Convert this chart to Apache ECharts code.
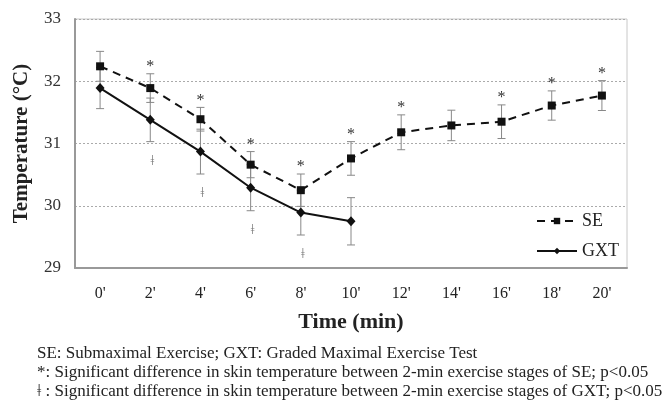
<!DOCTYPE html>
<html><head><meta charset="utf-8">
<script src="https://cdn.jsdelivr.net/npm/echarts@6/dist/echarts.min.js"></script>
<style>html,body{margin:0;padding:0;background:#fff;}#c{width:670px;height:401px;}</style>
</head><body><div id="c"></div>
<script>
const categories = ["0'","2'","4'","6'","8'","10'","12'","14'","16'","18'","20'"];
const seMean = [32.24, 31.89, 31.39, 30.66, 30.25, 30.76, 31.18, 31.29, 31.35, 31.61, 31.77];
const seSD   = [0.24, 0.23, 0.19, 0.21, 0.26, 0.27, 0.28, 0.245, 0.27, 0.235, 0.24];
const seSig  = [0, 1, 1, 1, 1, 1, 1, 0, 1, 1, 1];
const gxtMean = [31.89, 31.38, 30.87, 30.29, 29.89, 29.75];
const gxtSD   = [0.33, 0.35, 0.36, 0.37, 0.36, 0.38];
const gxtSig  = [0, 1, 1, 1, 1, 0];
const yTicks = [29, 30, 31, 32, 33];
const footnotes = [
  "SE: Submaximal Exercise; GXT: Graded Maximal Exercise Test",
  "*: Significant difference in skin temperature between 2-min exercise stages of SE; p<0.05",
  "ǂ : Significant difference in skin temperature between 2-min exercise stages of GXT; p<0.05"
];

const serif = "'Liberation Serif','Times New Roman',serif";
const seErr = seMean.map((m,i)=>[i, m - seSD[i], m + seSD[i], seSig[i]]);
const gxtErr = gxtMean.map((m,i)=>[i, m - gxtSD[i], m + gxtSD[i], gxtSig[i]]);

function errRender(kind){
  return function(params, api){
    const x = api.value(0);
    const lo = api.coord([x, api.value(1)]);
    const hi = api.coord([x, api.value(2)]);
    const sig = api.value(3);
    const cap = 4;
    const st = {stroke:'#888', lineWidth:1};
    const ch = [
      {type:'line', shape:{x1:lo[0], y1:lo[1], x2:hi[0], y2:hi[1]}, style:st},
      {type:'line', shape:{x1:lo[0]-cap, y1:lo[1], x2:lo[0]+cap, y2:lo[1]}, style:st},
      {type:'line', shape:{x1:hi[0]-cap, y1:hi[1], x2:hi[0]+cap, y2:hi[1]}, style:st}
    ];
    if (sig) {
      if (kind === 'se') {
        ch.push({type:'text', style:{text:'*', x:hi[0], y:hi[1]-7, align:'center', verticalAlign:'middle', font:'16px '+serif, fill:'#333'}});
      } else {
        ch.push({type:'text', style:{text:'ǂ', x:lo[0]+2, y:lo[1]+19, align:'center', verticalAlign:'middle', font:'15px '+serif, fill:'#777'}});
      }
    }
    return {type:'group', children:ch};
  };
}

const chart = echarts.init(document.getElementById('c'), null, {renderer:'canvas'});
chart.setOption({
  animation:false,
  grid:{left:75, right:43, top:19, bottom:133, show:true, borderColor:'#c8c8c8', borderWidth:1},
  legend:{
    right:46, top:207, orient:'vertical', itemGap:12, itemWidth:40, itemHeight:8,
    textStyle:{fontFamily:serif, fontSize:18, color:'#222'},
    data:['SE','GXT']
  },
  xAxis:{
    type:'category', data:categories, boundaryGap:true,
    axisLine:{lineStyle:{color:'#999', width:2}},
    axisTick:{inside:true, length:6, lineStyle:{color:'#999', width:1}},
    axisLabel:{fontFamily:serif, fontSize:16, color:'#222', margin:18},
    name:'Time (min)', nameLocation:'middle', nameGap:43,
    nameTextStyle:{fontFamily:serif, fontSize:22, fontWeight:'bold', color:'#222'}
  },
  yAxis:{
    type:'value', min:yTicks[0], max:yTicks[yTicks.length-1], interval:1,
    axisLine:{show:true, lineStyle:{color:'#999', width:2}},
    axisTick:{show:false},
    axisLabel:{fontFamily:serif, fontSize:17, color:'#333', margin:14},
    splitLine:{lineStyle:{color:'#aaa', type:[2,2], width:1}},
    name:'Temperature (°C)', nameLocation:'middle', nameGap:43, nameRotate:90,
    nameTextStyle:{fontFamily:serif, fontSize:21, fontWeight:'bold', color:'#222'}
  },
  graphic: footnotes.map((t,i)=>({type:'text', left:37, top:345+i*19, style:{text:t, font:'17px '+serif, fill:'#222'}})),
  series:[
    {type:'custom', name:'seErr', data:seErr, renderItem:errRender('se'), z:1, silent:true},
    {type:'custom', name:'gxtErr', data:gxtErr, renderItem:errRender('gxt'), z:1, silent:true},
    {type:'line', name:'SE', data:seMean, symbol:'rect', symbolSize:8, z:3,
     lineStyle:{color:'#111', width:2, type:[8,6]}, itemStyle:{color:'#111'}},
    {type:'line', name:'GXT', data:gxtMean, symbol:'diamond', symbolSize:[9,10], z:3,
     lineStyle:{color:'#111', width:2}, itemStyle:{color:'#111'}}
  ]
});
</script></body></html>
